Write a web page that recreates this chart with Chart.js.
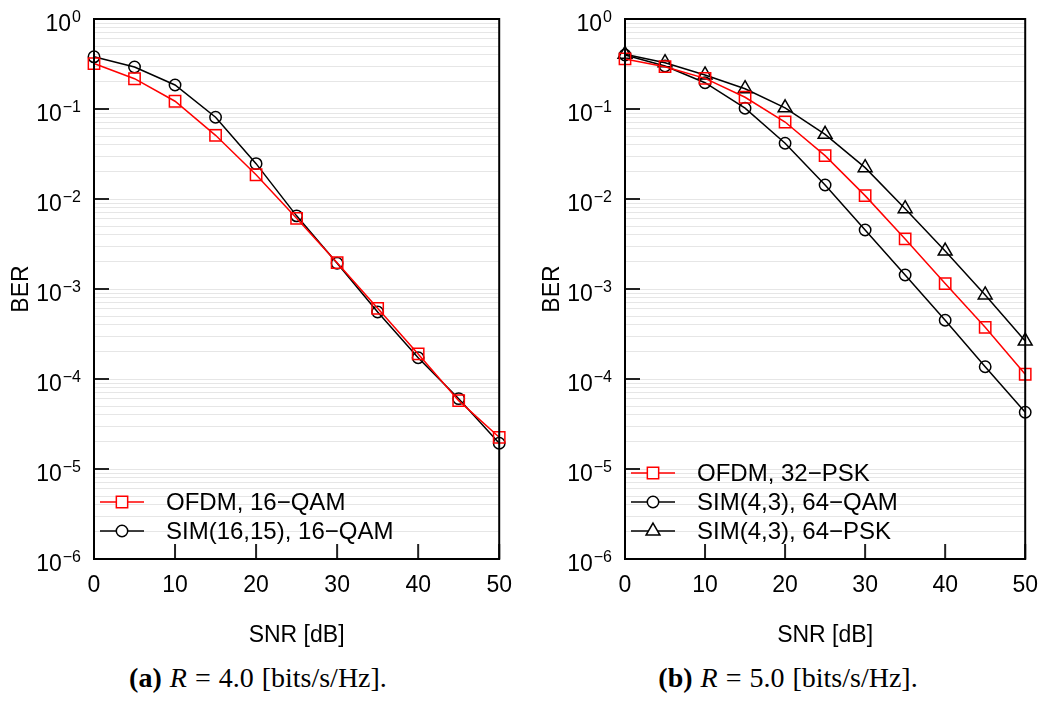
<!DOCTYPE html>
<html>
<head>
<meta charset="utf-8">
<script src="https://cdn.jsdelivr.net/npm/chart.js@4.4.1/dist/chart.umd.min.js"></script>
<style>
  body { margin: 0; width: 1051px; height: 704px; overflow: hidden; background: #fff; position: relative; }
  canvas { position: absolute; top: 0; }
  #chartA { left: 0; }
  #chartB { left: 531px; }
  .caption { position: absolute; top: 662px; width: 500px; text-align: center; word-spacing: 1px;
             font-family: "Liberation Serif", "Times New Roman", serif; font-size: 28px; color: #000; }
</style>
</head>
<body>
<canvas id="chartA" width="525" height="655"></canvas>
<canvas id="chartB" width="520" height="655"></canvas>
<div class="caption" style="left:8px"><b>(a)</b> <i>R</i> = 4.0 [bits/s/Hz].</div>
<div class="caption" style="left:538px"><b>(b)</b> <i>R</i> = 5.0 [bits/s/Hz].</div>
<script>
// SNR points shared by both panels
var snr = [0, 5, 10, 15, 20, 25, 30, 35, 40, 45, 50];

// panel (a), R = 4.0
var berOfdm16qam = [0.32, 0.217, 0.122, 0.051, 0.0186, 0.0061, 0.00196, 6.1e-4, 1.9e-4, 5.75e-5, 2.25e-5];
var berSim16qam  = [0.38, 0.293, 0.185, 0.081, 0.0247, 0.0065, 0.00193, 5.55e-4, 1.72e-4, 6.05e-5, 1.93e-5];

// panel (b), R = 5.0
var berOfdm32psk = [0.36, 0.295, 0.219, 0.135, 0.0717, 0.0303, 0.0109, 0.0036, 0.00115, 3.75e-4, 1.13e-4];
var berSim64qam  = [0.398, 0.30, 0.196, 0.102, 0.0416, 0.0143, 0.00453, 0.00143, 4.49e-4, 1.37e-4, 4.27e-5];
var berSim64psk  = [0.405, 0.327, 0.239, 0.168, 0.103, 0.0523, 0.0223, 0.0078, 0.00264, 8.6e-4, 2.64e-4];

// axis ticks
var xTicks = [0, 10, 20, 30, 40, 50];
var decades = [0, -1, -2, -3, -4, -5, -6];

var SANS = '"Liberation Sans", Arial, sans-serif';

// grid lines at 1..9 x 10^k
var gridValues = [];
for (var e = -6; e < 0; e++) {
  for (var m = 1; m < 10; m++) gridValues.push(m * Math.pow(10, e));
}
gridValues.push(1);

function toPoints(ys) {
  return snr.map(function (x, i) { return {x: x, y: ys[i]}; });
}

function series(label, ys, color, style, radius) {
  return {
    label: label,
    data: toPoints(ys),
    borderColor: color,
    backgroundColor: 'transparent',
    borderWidth: 1.5,
    pointStyle: style,
    pointRadius: radius,
    pointHoverRadius: radius,
    pointBorderColor: color,
    pointBackgroundColor: 'transparent',
    pointBorderWidth: 1.5,
    tension: 0,
    clip: false
  };
}

// frame, inward ticks, superscript y labels and in-plot legend
var framePlugin = {
  id: 'frame',
  afterDraw: function (chart) {
    var ctx = chart.ctx, a = chart.chartArea;
    var xs = chart.scales.x, ys = chart.scales.y;
    ctx.save();

    ctx.strokeStyle = '#222';
    ctx.lineWidth = 2;
    ctx.beginPath();
    xTicks.forEach(function (v) {
      var px = xs.getPixelForValue(v);
      ctx.moveTo(px, a.bottom);
      ctx.lineTo(px, a.bottom - 15);
    });
    decades.forEach(function (d) {
      var py = ys.getPixelForValue(Math.pow(10, d));
      ctx.moveTo(a.left, py);
      ctx.lineTo(a.left + 15, py);
    });
    ctx.stroke();
    ctx.strokeStyle = '#000';
    ctx.strokeRect(a.left, a.top, a.right - a.left, a.bottom - a.top);

    ctx.fillStyle = '#000';
    ctx.textAlign = 'right';
    ctx.textBaseline = 'alphabetic';
    decades.forEach(function (d) {
      var py = ys.getPixelForValue(Math.pow(10, d));
      var ex = d === 0 ? '0' : '\u2212' + (-d);
      var xr = a.left - 13;
      ctx.font = '16px ' + SANS;
      ctx.fillText(ex, xr, py + 3);
      var w = ctx.measureText(ex).width;
      ctx.font = '23px ' + SANS;
      ctx.fillText('10', xr - w - 1, py + 12);
    });

    // legend rows, bottom row at y = 531
    var sets = chart.data.datasets;
    ctx.textAlign = 'left';
    ctx.textBaseline = 'middle';
    ctx.font = '24px ' + SANS;
    sets.forEach(function (ds, i) {
      var y = 531 - (sets.length - 1 - i) * 29;
      ctx.strokeStyle = ds.borderColor;
      ctx.lineWidth = ds.borderWidth;
      ctx.beginPath();
      ctx.moveTo(100, y);
      ctx.lineTo(144, y);
      ctx.stroke();
      ctx.fillStyle = '#fff';
      Chart.helpers.drawPoint(ctx, {
        pointStyle: ds.pointStyle, radius: ds.pointRadius, rotation: 0, borderWidth: ds.pointBorderWidth
      }, 122, y);
      ctx.fillStyle = '#000';
      ctx.fillText(ds.label, 166, y + 1);
    });

    ctx.restore();
  }
};

function makeChart(id, datasets, padRight) {
  return new Chart(document.getElementById(id), {
    type: 'line',
    data: {datasets: datasets},
    options: {
      responsive: false,
      animation: false,
      devicePixelRatio: 1,
      layout: {padding: {left: 0, right: padRight, top: 19, bottom: 0}},
      plugins: {legend: {display: false}, tooltip: {enabled: false}},
      scales: {
        x: {
          type: 'linear', min: 0, max: 50,
          ticks: {stepSize: 10, color: '#000', font: {family: SANS, size: 23}, padding: 13, maxRotation: 0},
          grid: {display: false, drawTicks: false},
          border: {display: false},
          title: {display: true, text: 'SNR [dB]', color: '#000', font: {family: SANS, size: 23}, padding: {top: 0, bottom: 6}},
          afterFit: function (s) { s.height = 96; }
        },
        y: {
          type: 'logarithmic', min: 1e-6, max: 1,
          afterBuildTicks: function (s) { s.ticks = gridValues.map(function (v) { return {value: v}; }); },
          ticks: {display: false},
          grid: {color: '#e6e6e6', lineWidth: 1, drawTicks: false},
          border: {display: false},
          title: {display: true, text: 'BER', color: '#000', font: {family: SANS, size: 23}, padding: {top: 8, bottom: 0}},
          afterFit: function (s) { s.width = 94; }
        }
      }
    },
    plugins: [framePlugin]
  });
}

makeChart('chartA', [
  series('OFDM, 16\u2212QAM', berOfdm16qam, '#ff0000', 'rect', 8),
  series('SIM(16,15), 16\u2212QAM', berSim16qam, '#000000', 'circle', 5.7)
], 21);

makeChart('chartB', [
  series('OFDM, 32\u2212PSK', berOfdm32psk, '#ff0000', 'rect', 8),
  series('SIM(4,3), 64\u2212QAM', berSim64qam, '#000000', 'circle', 5.7),
  series('SIM(4,3), 64\u2212PSK', berSim64psk, '#000000', 'triangle', 8)
], 16);
</script>
</body>
</html>
